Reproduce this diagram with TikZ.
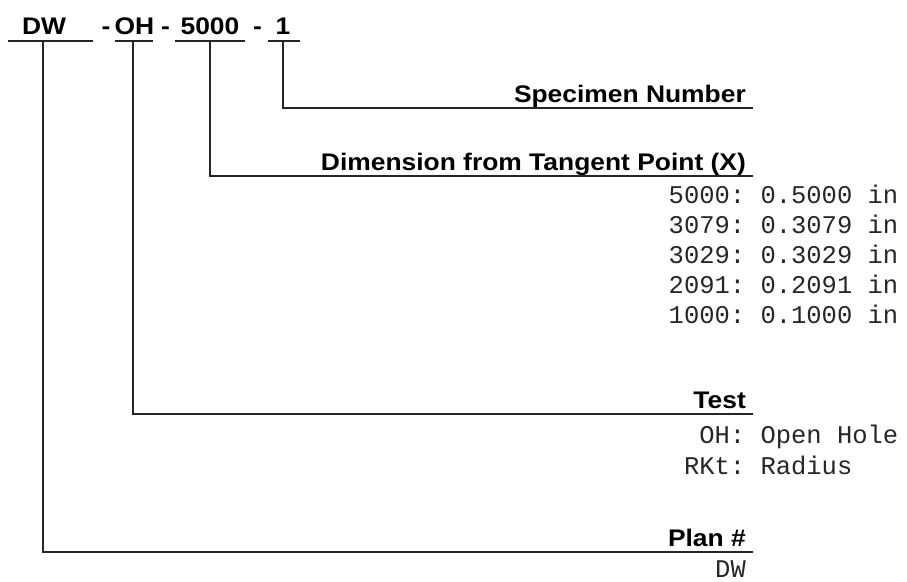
\documentclass[tikz,border=0pt]{standalone}
\usepackage{fontspec}
\newfontfamily\lblfont{Liberation Sans Bold}[FakeStretch=1.1]
\newfontfamily\codefont{Liberation Mono}
\frenchspacing
\tikzset{
  lead/.style={line width=1.5pt, black!85},
  part/.style={font=\lblfont\fontsize{24}{28}\selectfont, inner sep=0pt, anchor=base},
  heading/.style={font=\lblfont\fontsize{24}{28}\selectfont, inner sep=0pt, anchor=base east},
  entry/.style={font=\codefont\fontsize{25.5}{30}\selectfont, text=black!85, inner sep=0pt, anchor=base west},
}
\begin{document}
\begin{tikzpicture}[x=1pt,y=-1pt]
\useasboundingbox (0,0) rectangle (907,581);
% the code, part by part
\node[part] (dw) at (44,34) {DW};
\node[part] (dashA) at (106,34) {-};
\node[part] (oh) at (134.5,34) {OH};
\node[part] (dashB) at (165.5,34) {-};
\node[part] (xdim) at (210,34) {5000};
\node[part] (dashC) at (257.5,34) {-};
\node[part] (num) at (283,34) {1};
% underlines
\draw[lead] (8,41) -- (93,41);
\draw[lead] (115,41) -- (153,41);
\draw[lead] (175,41) -- (245,41);
\draw[lead] (268,41) -- (300,41);
\coordinate (dwtick) at (43,41);
\coordinate (ohtick) at (133,41);
\coordinate (xtick) at (210,41);
\coordinate (numtick) at (283,41);
% headings on the right
\node[heading] (spec) at (746,102) {Specimen Number};
\node[heading] (dim) at (746,170) {Dimension from Tangent Point (X)};
\node[heading] (test) at (746,408) {Test};
\node[heading] (plan) at (746,546) {Plan \#};
\coordinate (specend) at (753,108);
\coordinate (dimend) at (753,176);
\coordinate (testend) at (753,414);
\coordinate (planend) at (753,552);
% leaders
\draw[lead] (numtick) |- (specend);
\draw[lead] (xtick) |- (dimend);
\draw[lead] (ohtick) |- (testend);
\draw[lead] (dwtick) |- (planend);
% values
\foreach \key/\val [count=\i] in {5000/0.5000,3079/0.3079,3029/0.3029,2091/0.2091,1000/0.1000}
  \node[entry] (dim\i) at (668.5,{203+30*(\i-1)}) {\key: \val{} in};
\node[entry] (test1) at (699.1,443) {OH: Open Hole};
\node[entry] (test2) at (683.8,474) {RKt: Radius};
\node[entry, anchor=base east] (plan1) at (746,577) {DW};
\end{tikzpicture}
\end{document}
